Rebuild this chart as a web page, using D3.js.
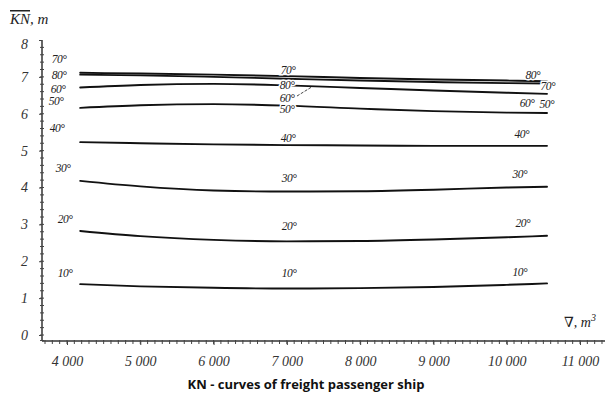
<!DOCTYPE html>
<html><head><meta charset="utf-8">
<script src="https://cdn.jsdelivr.net/npm/d3@7"></script>
<style>
body{margin:0;background:#fff;}
svg{display:block;}
</style></head>
<body>
<svg id="c" width="610" height="396"></svg>
<script>
// ---- data ----
const displacement = [4180, 5000, 6000, 7000, 8000, 9000, 10000, 10550];
const angles = [10, 20, 30, 40, 50, 60, 70, 80];
const kn10 = [1.38, 1.32, 1.28, 1.26, 1.27, 1.30, 1.36, 1.40];
const kn20 = [2.82, 2.68, 2.58, 2.54, 2.55, 2.59, 2.65, 2.69];
const kn30 = [4.18, 4.03, 3.92, 3.89, 3.90, 3.94, 4.00, 4.02];
const kn40 = [5.23, 5.20, 5.17, 5.15, 5.14, 5.13, 5.13, 5.13];
const kn50 = [6.16, 6.23, 6.26, 6.22, 6.14, 6.07, 6.03, 6.02];
const kn60 = [6.71, 6.78, 6.81, 6.77, 6.70, 6.63, 6.57, 6.54];
const kn70 = [7.11, 7.09, 7.06, 7.02, 6.97, 6.93, 6.90, 6.88];
const kn80 = [7.06, 7.04, 7.00, 6.95, 6.90, 6.86, 6.83, 6.82];
const xTicks = [4000, 5000, 6000, 7000, 8000, 9000, 10000, 11000];
const yTicks = [0, 1, 2, 3, 4, 5, 6, 7, 8];
// curve annotations: [angle text, displacement, KN]
const labelText = ["70°","80°","60°","50°","40°","30°","20°","10°",
                   "70°","80°","60°","50°","40°","30°","20°","10°",
                   "80°","70°","60°","50°","40°","30°","20°","10°"];
const labelX = [3891,3891,3877,3850,3864,3945,3973,3973,
                7015,7001,7001,7001,7015,7029,7029,7029,
                10357,10562,10276,10548,10207,10180,10221,10180];
const labelY = [7.48,7.04,6.68,6.34,5.61,4.53,3.15,1.68,
                7.20,6.79,6.44,6.12,5.34,4.26,2.96,1.68,
                7.06,6.75,6.29,6.26,5.45,4.37,3.04,1.71];
const leaderX = [7138, 7342];
const leaderY = [6.48, 6.73];
const title = "KN - curves of freight passenger ship";

// ---- chart ----
const serif = "'Liberation Serif','DejaVu Serif',serif";
const svg = d3.select("#c");
const x = d3.scaleLinear().domain([4000, 11000]).range([67, 580]);
const y = d3.scaleLinear().domain([0, 8]).range([335, 40]);
const axisY = y(0) + 6;
const axisX = 42;

const series = [kn10, kn20, kn30, kn40, kn50, kn60, kn70, kn80];
const line = d3.line().x((d,i)=>x(displacement[i])).y(d=>y(d)).curve(d3.curveMonotoneX);
svg.append("g").selectAll("path").data(series).join("path")
  .attr("d", d=>line(d)).attr("fill","none").attr("stroke","#111")
  .attr("stroke-width",1.9).attr("stroke-linecap","round");

// x axis
const fmt = d3.formatLocale({decimal:".",thousands:" ",grouping:[3],currency:["",""]}).format(",");
const minorX = d3.range(3700, 11301, 100);
svg.append("line").attr("x1",axisX).attr("x2",605).attr("y1",axisY).attr("y2",axisY)
  .attr("stroke","#333").attr("stroke-width",1.5);
svg.append("g").selectAll("line").data(minorX).join("line")
  .attr("x1",d=>x(d)).attr("x2",d=>x(d)).attr("y1",axisY-1).attr("y2",axisY+3)
  .attr("stroke","#444").attr("stroke-width",1);
const gx = svg.append("g").attr("transform",`translate(0,${axisY})`)
  .call(d3.axisBottom(x).tickValues(xTicks).tickFormat(fmt).tickSize(4));
gx.select(".domain").remove();
gx.selectAll(".tick line").attr("stroke","#444");
gx.selectAll(".tick text").attr("dy","1.3em")
  .style("font-family",serif).style("font-style","italic").style("font-size","14px").attr("fill","#333");

// y axis
const minorY = d3.range(0, 40).map(i=>i*0.2).concat([-0.15]);
svg.append("line").attr("x1",axisX).attr("x2",axisX).attr("y1",y(8)).attr("y2",axisY)
  .attr("stroke","#333").attr("stroke-width",1.5);
svg.append("g").selectAll("line").data(minorY).join("line")
  .attr("x1",axisX-2).attr("x2",axisX+2).attr("y1",d=>y(d)).attr("y2",d=>y(d))
  .attr("stroke","#444").attr("stroke-width",1);
const gy = svg.append("g").attr("transform",`translate(${axisX},0)`)
  .call(d3.axisLeft(y).tickValues(yTicks).tickFormat(d3.format("d")).tickSize(3));
gy.select(".domain").remove();
gy.selectAll(".tick line").attr("stroke","#444");
gy.selectAll(".tick text").attr("x",-14)
  .style("font-family",serif).style("font-style","italic").style("font-size","14px").attr("fill","#333");
gy.selectAll(".tick").filter(d=>d===8).select("text").attr("dy","0.6em");

// curve labels
svg.append("g").selectAll("text").data(labelText).join("text")
  .attr("x",(d,i)=>x(labelX[i])).attr("y",(d,i)=>y(labelY[i]))
  .attr("text-anchor","middle").attr("dominant-baseline","central")
  .style("font-family",serif).style("font-style","italic").style("font-size","11.5px")
  .style("letter-spacing","-0.5px")
  .attr("fill","#222")
  .attr("stroke","#fff").attr("stroke-width",3).attr("paint-order","stroke")
  .text(d=>d);
svg.append("path")
  .attr("d", d3.line().x((d,i)=>x(leaderX[i])).y(d=>y(d))(leaderY))
  .attr("stroke","#333").attr("stroke-width",0.9).attr("fill","none")
  .attr("stroke-dasharray","3,1.5");

// axis titles
const t1 = svg.append("text").attr("x",10).attr("y",24)
  .style("font-family",serif).style("font-style","italic").style("font-size","15px").attr("fill","#222");
t1.append("tspan").style("text-decoration","overline").text("KN");
t1.append("tspan").text(", m");
const t2 = svg.append("text").attr("x",564).attr("y",327)
  .style("font-family",serif).style("font-style","italic").style("font-size","14px").attr("fill","#222");
t2.append("tspan").style("font-style","normal").text("∇");
t2.append("tspan").text(", m");
t2.append("tspan").attr("dy",-6).style("font-size","10px").text("3");

svg.append("text").attr("x",306).attr("y",389).attr("text-anchor","middle")
  .style("font-family","'Open Sans','Liberation Sans',sans-serif").style("font-weight","bold")
  .style("font-size","13px").attr("fill","#111").text(title);
</script>
</body></html>
